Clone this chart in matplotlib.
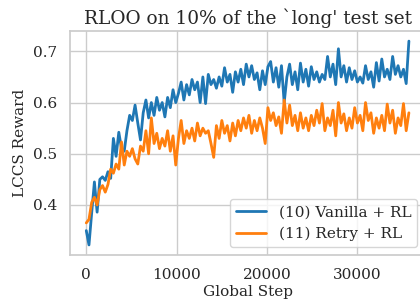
import numpy as np
import matplotlib
matplotlib.use("Agg")
import matplotlib.pyplot as plt
import seaborn as sns

steps = np.arange(0, 36000, 300)

vanilla = [
    0.350, 0.322, 0.385, 0.445, 0.386, 0.450, 0.455, 0.448, 0.465, 0.452,
    0.530, 0.495, 0.542, 0.510, 0.505, 0.545, 0.575, 0.565, 0.595, 0.560,
    0.527, 0.580, 0.605, 0.570, 0.600, 0.575, 0.610, 0.585, 0.600, 0.572,
    0.610, 0.590, 0.625, 0.600, 0.618, 0.640, 0.605, 0.635, 0.615, 0.645,
    0.625, 0.640, 0.600, 0.650, 0.598, 0.655, 0.635, 0.645, 0.628, 0.650,
    0.632, 0.668, 0.640, 0.655, 0.620, 0.660, 0.640, 0.665, 0.635, 0.675,
    0.650, 0.672, 0.645, 0.658, 0.625, 0.662, 0.635, 0.670, 0.680, 0.640,
    0.668, 0.630, 0.672, 0.600, 0.650, 0.675, 0.635, 0.660, 0.625, 0.677,
    0.640, 0.665, 0.632, 0.670, 0.645, 0.660, 0.640, 0.655, 0.645, 0.690,
    0.650, 0.675, 0.635, 0.705, 0.650, 0.672, 0.640, 0.668, 0.645, 0.662,
    0.640, 0.650, 0.638, 0.672, 0.645, 0.660, 0.630, 0.678, 0.642, 0.685,
    0.650, 0.665, 0.645, 0.690, 0.655, 0.672, 0.650, 0.665, 0.637, 0.720,
]

retry = [
    0.365, 0.372, 0.405, 0.415, 0.400, 0.430, 0.438, 0.425, 0.440, 0.470,
    0.462, 0.480, 0.470, 0.523, 0.478, 0.505, 0.495, 0.510, 0.490, 0.480,
    0.515, 0.505, 0.545, 0.500, 0.570, 0.520, 0.540, 0.510, 0.530, 0.515,
    0.545, 0.505, 0.535, 0.478, 0.530, 0.565, 0.520, 0.545, 0.530, 0.550,
    0.525, 0.560, 0.535, 0.550, 0.540, 0.545, 0.520, 0.493, 0.555, 0.530,
    0.565, 0.540, 0.555, 0.525, 0.560, 0.535, 0.565, 0.545, 0.570, 0.550,
    0.575, 0.540, 0.565, 0.545, 0.570, 0.550, 0.520, 0.590, 0.565, 0.580,
    0.555, 0.572, 0.540, 0.605, 0.560, 0.595, 0.555, 0.575, 0.545, 0.580,
    0.550, 0.570, 0.545, 0.575, 0.555, 0.585, 0.560, 0.598, 0.545, 0.570,
    0.555, 0.585, 0.535, 0.600, 0.560, 0.578, 0.545, 0.570, 0.550, 0.590,
    0.560, 0.575, 0.545, 0.600, 0.565, 0.580, 0.540, 0.570, 0.550, 0.575,
    0.545, 0.597, 0.560, 0.585, 0.540, 0.570, 0.555, 0.598, 0.545, 0.580,
]

labels = ["(10) Vanilla + RL", "(11) Retry + RL"]
title = "RLOO on 10% of the `long' test set"

sns.set_theme(style="whitegrid")
plt.rcParams["font.family"] = ["DejaVu Serif"]

fig = plt.figure(figsize=(4.2, 3.03), dpi=100)
ax = fig.add_axes([0.167, 0.158, 0.845, 0.74])
ax.plot(steps, vanilla, color="#1f77b4", lw=2.0, label=labels[0])
ax.plot(steps, retry, color="#ff7f0e", lw=2.0, label=labels[1])
ax.set_xticks([0, 10000, 20000, 30000])
ax.set_yticks([0.4, 0.5, 0.6, 0.7])
ax.tick_params(labelsize=11)
ax.set_xlabel("Global Step", fontsize=11, labelpad=2)
ax.set_ylabel("LCCS Reward", fontsize=11)
ax.set_title(title, fontsize=13.3, pad=5)
ax.legend(loc="lower right", fontsize=11)
fig.savefig("out.png", dpi=100)
